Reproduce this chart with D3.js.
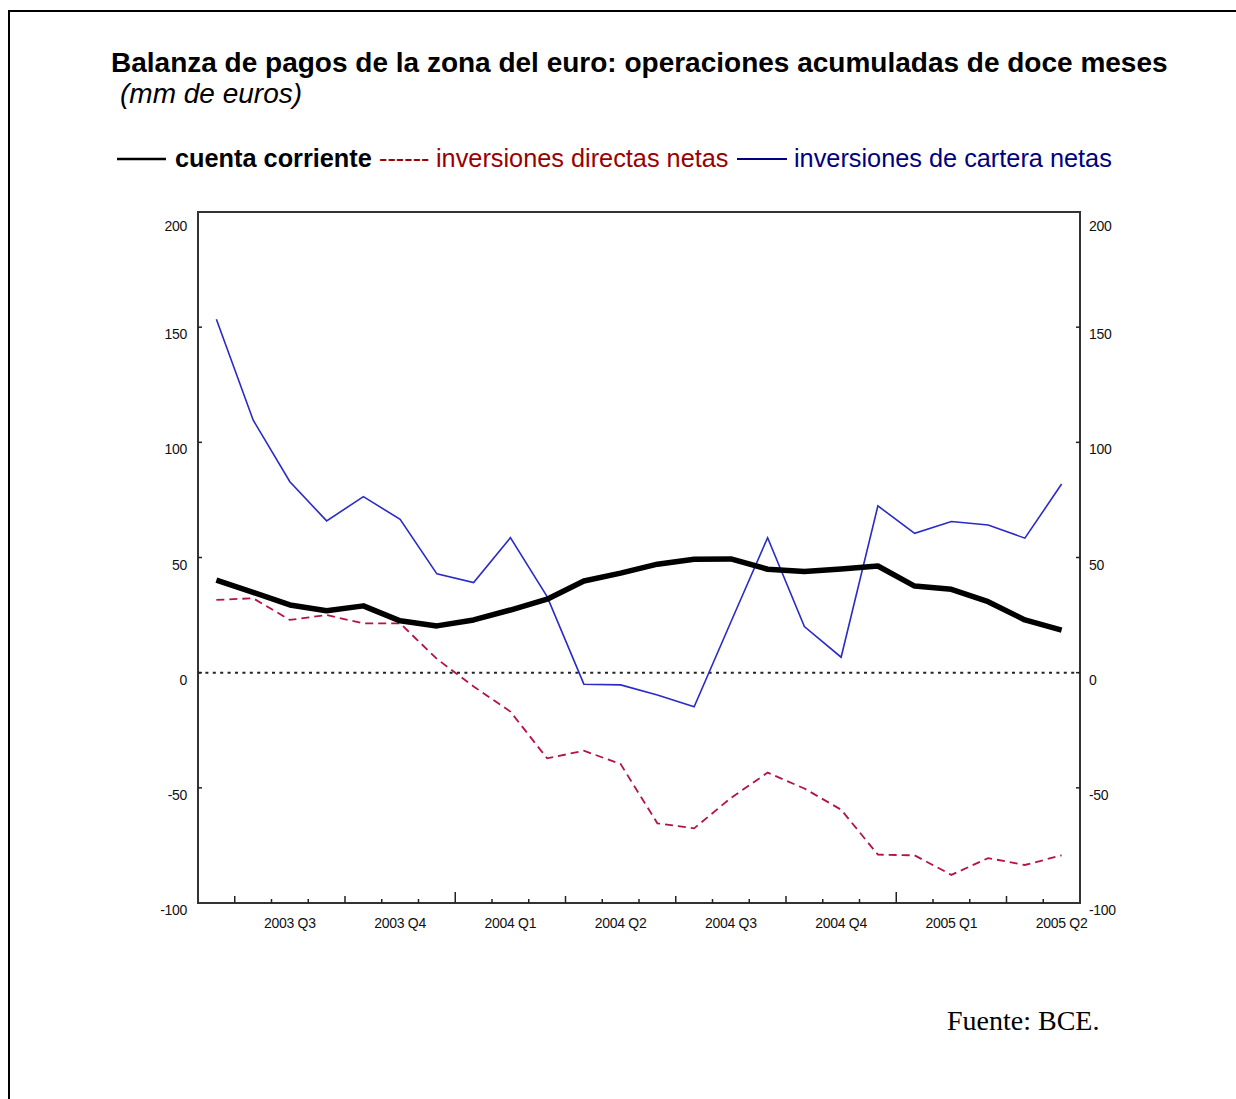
<!DOCTYPE html>
<html><head><meta charset="utf-8">
<script src="https://cdn.jsdelivr.net/npm/d3@7"></script>
<style>body{margin:0;background:#fff}</style>
</head><body><svg id="c" width="1236" height="1099"></svg>
<script>
// ---- data ----
const months = ["2003-06","2003-07","2003-08","2003-09","2003-10","2003-11","2003-12",
  "2004-01","2004-02","2004-03","2004-04","2004-05","2004-06","2004-07","2004-08","2004-09",
  "2004-10","2004-11","2004-12","2005-01","2005-02","2005-03","2005-04","2005-05"];
const quarterLabels = [
  {month:"2003-08", label:"2003 Q3"}, {month:"2003-11", label:"2003 Q4"},
  {month:"2004-02", label:"2004 Q1"}, {month:"2004-05", label:"2004 Q2"},
  {month:"2004-08", label:"2004 Q3"}, {month:"2004-11", label:"2004 Q4"},
  {month:"2005-02", label:"2005 Q1"}, {month:"2005-05", label:"2005 Q2"}];
const yTicks = [-100, -50, 0, 50, 100, 150, 200];
const cuentaCorriente = [40.2,34.9,29.4,26.9,29.0,22.5,20.3,22.9,27.2,31.9,39.8,43.2,
  47.1,49.2,49.4,44.9,43.9,45.0,46.3,37.6,36.2,30.8,22.9,18.5];
const inversionesDirectas = [31.6,32.3,22.9,25.0,21.4,21.4,6.0,-6.0,-16.9,-37.2,-33.9,-39.7,
  -65.4,-67.6,-54.4,-43.4,-50.3,-59.5,-79.0,-79.3,-87.8,-80.5,-83.5,-79.3];
const inversionesCartera = [153.4,109.7,82.9,65.9,76.4,66.6,42.9,39.1,58.6,33.0,-5.0,-5.3,
  -9.7,-14.8,22.0,58.6,20.0,6.7,72.4,60.5,65.6,64.1,58.4,81.9];

// ---- layout ----
const svg = d3.select("#c");
const L = 198, R = 1080, T = 212, B = 903;
const x = d3.scaleBand().domain(months).range([L, R]).paddingInner(0).paddingOuter(0);
const cx = m => x(m) + x.bandwidth() / 2;
const y = d3.scaleLinear().domain([-100, 200]).range([B, T]);

// page border
svg.append("path").attr("d", "M9,1099 V11 H1236").attr("fill", "none")
  .attr("stroke", "#000").attr("stroke-width", 2);

// title
svg.append("text").attr("x", 111).attr("y", 72)
  .attr("font-family", "Liberation Sans, Arial, sans-serif").attr("font-weight", "bold")
  .attr("font-size", 28).attr("fill", "#000")
  .text("Balanza de pagos de la zona del euro: operaciones acumuladas de doce meses");
svg.append("text").attr("x", 120).attr("y", 103)
  .attr("font-family", "Liberation Sans, Arial, sans-serif").attr("font-style", "italic")
  .attr("font-size", 28).attr("fill", "#000").text("(mm de euros)");

// legend
const lg = svg.append("g").attr("font-family", "Liberation Sans, Arial, sans-serif").attr("font-size", 25.3);
lg.append("line").attr("x1", 117).attr("x2", 166).attr("y1", 159).attr("y2", 159)
  .attr("stroke", "#000").attr("stroke-width", 2.5);
lg.append("text").attr("x", 175).attr("y", 167).attr("font-weight", "bold").attr("fill", "#000").text("cuenta corriente");
lg.append("text").attr("x", 379).attr("y", 167).attr("fill", "#990000").text("------");
lg.append("text").attr("x", 436).attr("y", 167).attr("fill", "#990000").text("inversiones directas netas");
lg.append("line").attr("x1", 737).attr("x2", 787).attr("y1", 159).attr("y2", 159)
  .attr("stroke", "#000080").attr("stroke-width", 2);
lg.append("text").attr("x", 794).attr("y", 167).attr("fill", "#000080").text("inversiones de cartera netas");

// zero dotted line
svg.append("line").attr("x1", L).attr("x2", R).attr("y1", y(0)).attr("y2", y(0))
  .attr("stroke", "#222").attr("stroke-width", 2).attr("stroke-dasharray", "3,4.4");

// series
const line = d3.line().x((d, i) => cx(months[i])).y(d => y(d));
svg.append("path").datum(inversionesDirectas).attr("d", line).attr("fill", "none")
  .attr("stroke", "#b3124a").attr("stroke-width", 1.8).attr("stroke-dasharray", "8,5");
svg.append("path").datum(inversionesCartera).attr("d", line).attr("fill", "none")
  .attr("stroke", "#2a2ac8").attr("stroke-width", 1.6);
svg.append("path").datum(cuentaCorriente).attr("d", line).attr("fill", "none")
  .attr("stroke", "#000").attr("stroke-width", 5.5).attr("stroke-linejoin", "round");

// frame
svg.append("rect").attr("x", L).attr("y", T).attr("width", R - L).attr("height", B - T)
  .attr("fill", "none").attr("stroke", "#333").attr("stroke-width", 2);

// y ticks and labels
const tickFont = "Liberation Sans, Arial, sans-serif";
yTicks.forEach(v => {
  if (v !== -100 && v !== 200) {
    svg.append("line").attr("x1", L).attr("x2", L + 4).attr("y1", y(v)).attr("y2", y(v)).attr("stroke", "#222").attr("stroke-width", 1.5);
    svg.append("line").attr("x1", R - 4).attr("x2", R).attr("y1", y(v)).attr("y2", y(v)).attr("stroke", "#222").attr("stroke-width", 1.5);
  }
  const ly = Math.max(y(v) + 12, T + 19);
  svg.append("text").attr("x", 187).attr("y", ly).attr("text-anchor", "end")
    .attr("font-family", tickFont).attr("font-size", 14).attr("letter-spacing", -0.3).attr("fill", "#111").text(v);
  svg.append("text").attr("x", 1089).attr("y", ly).attr("text-anchor", "start")
    .attr("font-family", tickFont).attr("font-size", 14).attr("letter-spacing", -0.3).attr("fill", "#111").text(v);
});

// x ticks at month boundaries
months.forEach((m, i) => {
  if (i === 0) return;
  const mm = +m.slice(5, 7);
  let len = 4;
  if (mm === 1) len = 11; else if (mm === 4 || mm === 7 || mm === 10) len = 7;
  svg.append("line").attr("x1", x(m)).attr("x2", x(m)).attr("y1", B).attr("y2", B - len)
    .attr("stroke", "#222").attr("stroke-width", 1.5);
});
quarterLabels.forEach(q => {
  svg.append("text").attr("x", cx(q.month)).attr("y", 928).attr("text-anchor", "middle")
    .attr("font-family", tickFont).attr("font-size", 14).attr("letter-spacing", -0.3).attr("fill", "#111").text(q.label);
});

// source
svg.append("text").attr("x", 947).attr("y", 1030)
  .attr("font-family", "Liberation Serif, Times New Roman, serif").attr("font-size", 28)
  .attr("fill", "#000").text("Fuente: BCE.");
</script></body></html>
